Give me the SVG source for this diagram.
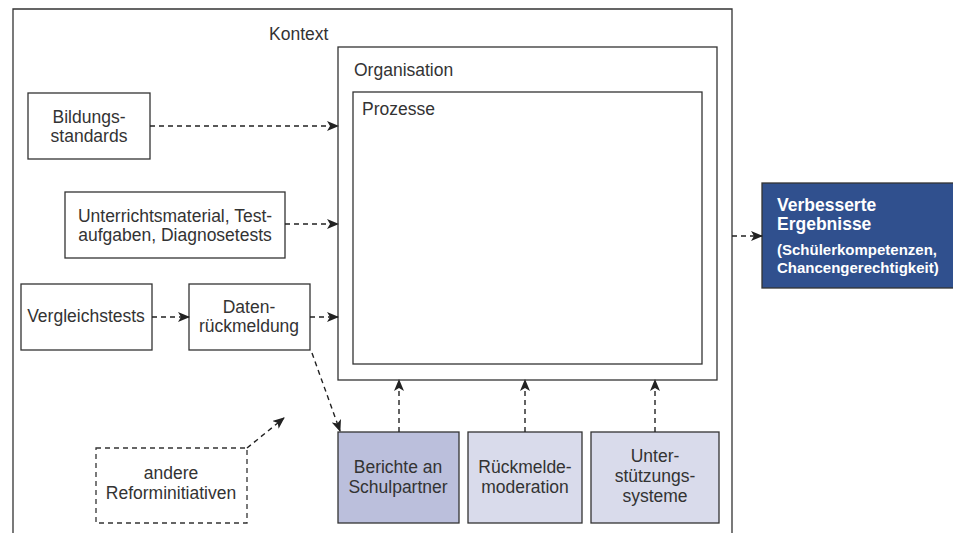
<svg xmlns="http://www.w3.org/2000/svg" width="953" height="533" viewBox="0 0 953 533">
<defs>
<marker id="ah" viewBox="0 0 12 10" refX="11" refY="5" markerWidth="12" markerHeight="10" markerUnits="userSpaceOnUse" orient="auto">
<path d="M0,0 L12,5 L0,10 L3,5 Z" fill="#222"/>
</marker>
</defs>
<style>
.box{fill:#fff;stroke:#333;stroke-width:1.3}
.t{font-family:"Liberation Sans",Arial,sans-serif;font-size:17.5px;fill:#333}
.c{text-anchor:middle}
.con{fill:none;stroke:#222;stroke-width:1.4;stroke-dasharray:5,4;marker-end:url(#ah)}
.wt{font-family:"Liberation Sans",Arial,sans-serif;font-weight:bold;fill:#fff}
</style>
<rect width="953" height="533" fill="#fff"/>
<g id="kontext">
<path d="M13,540 L13,9 L732,9 L732,540" class="box"/>
<text x="269" y="40" class="t" font-size="18">Kontext</text>
</g>
<g id="organisation">
<rect x="338" y="47" width="379" height="333" class="box"/>
<text x="354" y="76" class="t">Organisation</text>
</g>
<g id="prozesse">
<rect x="353" y="92" width="349" height="272" class="box"/>
<text x="362" y="115" class="t">Prozesse</text>
</g>
<g id="bildungsstandards">
<rect x="28" y="93" width="122" height="66" class="box"/>
<text x="89" y="123" class="t c">Bildungs-</text>
<text x="89" y="142" class="t c">standards</text>
</g>
<g id="unterrichtsmaterial">
<rect x="65" y="192" width="220" height="66" class="box"/>
<text x="175" y="222" class="t c">Unterrichtsmaterial, Test-</text>
<text x="175" y="241" class="t c">aufgaben, Diagnosetests</text>
</g>
<g id="vergleichstests">
<rect x="21" y="284" width="131" height="66" class="box"/>
<text x="86" y="322" class="t c">Vergleichstests</text>
</g>
<g id="datenrueckmeldung">
<rect x="189" y="284" width="121" height="66" class="box"/>
<text x="249" y="313" class="t c">Daten-</text>
<text x="249" y="332" class="t c">rückmeldung</text>
</g>
<g id="reforminitiativen">
<rect x="96" y="448" width="151" height="75" class="box" stroke-dasharray="5,4"/>
<text x="171" y="479" class="t c">andere</text>
<text x="171" y="499" class="t c">Reforminitiativen</text>
</g>
<g id="berichte">
<rect x="338" y="432" width="121" height="91" fill="#bbbfdc" stroke="#333" stroke-width="1.3"/>
<text x="398" y="473" class="t c">Berichte an</text>
<text x="398" y="493" class="t c">Schulpartner</text>
</g>
<g id="rueckmeldemoderation">
<rect x="468" y="432" width="114" height="91" fill="#d9dbeb" stroke="#333" stroke-width="1.3"/>
<text x="525" y="473" class="t c">Rückmelde-</text>
<text x="525" y="493" class="t c">moderation</text>
</g>
<g id="unterstuetzungssysteme">
<rect x="591" y="432" width="128" height="91" fill="#d9dbeb" stroke="#333" stroke-width="1.3"/>
<text x="655" y="462" class="t c">Unter-</text>
<text x="655" y="482" class="t c">stützungs-</text>
<text x="655" y="502" class="t c">systeme</text>
</g>
<g id="ergebnisse">
<rect x="762" y="183" width="200" height="105" fill="#30508e" stroke="#333" stroke-width="1.3"/>
<text x="777" y="210.5" class="wt" font-size="17.5">Verbesserte</text>
<text x="777" y="229.5" class="wt" font-size="17.5">Ergebnisse</text>
<text x="777" y="255" class="wt" font-size="15">(Schülerkompetenzen,</text>
<text x="777" y="273" class="wt" font-size="15">Chancengerechtigkeit)</text>
</g>
<g id="connectors">
<path d="M150,126 L338,126" class="con"/>
<path d="M285,224 L338,224" class="con"/>
<path d="M152,317 L189,317" class="con"/>
<path d="M310,317 L338,317" class="con"/>
<path d="M312,353 L340,431" class="con"/>
<path d="M247,448 L284,418" class="con"/>
<path d="M399,432 L399,380" class="con"/>
<path d="M525,432 L525,380" class="con"/>
<path d="M655,432 L655,380" class="con"/>
<path d="M732,236 L762,236" class="con"/>
</g>
</svg>
